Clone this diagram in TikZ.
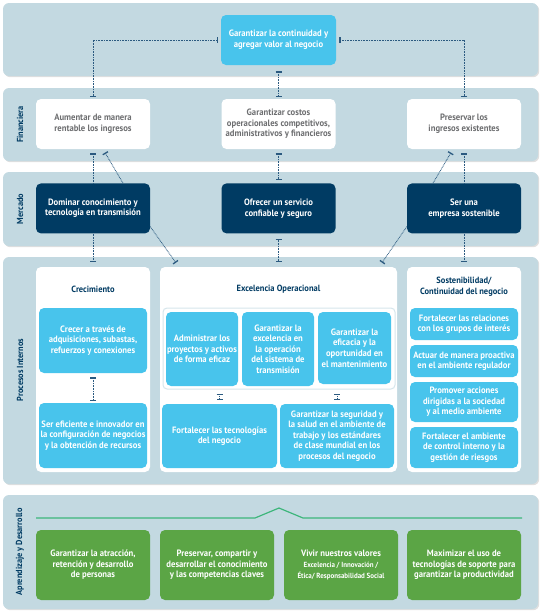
\documentclass[tikz,border=0pt]{standalone}
\usepackage{fontspec}
\setmainfont{PT Sans}[FakeStretch=0.94]
\usepackage{xcolor}
\usetikzlibrary{positioning,arrows.meta,shadows}
\definecolor{bandblue}{HTML}{C3D9E1}
\definecolor{boxcyan}{HTML}{48C4EC}
\definecolor{boxnavy}{HTML}{003B63}
\definecolor{boxgreen}{HTML}{5BA545}
\definecolor{linegreen}{HTML}{3DB67B}
\definecolor{txtgray}{HTML}{6D6E70}
\definecolor{linkblue}{HTML}{2B5A80}
\definecolor{framegray}{HTML}{D6E6EC}
\tikzset{band/.style={fill=bandblue,rounded corners=6pt,drop shadow={shadow xshift=1.2pt,shadow yshift=-1.2pt,opacity=.25}},
band label/.style={rotate=90,text=boxnavy,font=\fontsize{8.8}{10}\selectfont\bfseries},
base node/.style={rounded corners=5pt,align=center,inner sep=1pt,font=\fontsize{9.2}{10.6}\selectfont\bfseries},
white node/.style={base node,fill=white,text=txtgray,minimum width=114pt,minimum height=50pt},
navy node/.style={base node,fill=boxnavy,text=white,minimum width=114pt,minimum height=50pt},
cyan node/.style={base node,fill=boxcyan,text=white},
green node/.style={base node,fill=boxgreen,text=white,minimum width=114pt,minimum height=70pt},
panel/.style={fill=white,rounded corners=5pt},
title/.style={text=boxnavy,align=center,font=\fontsize{9}{11}\selectfont\bfseries},
link/.style={draw=linkblue,line width=.8pt,dash pattern=on .8pt off .8pt,>={Bar[width=6pt,line width=1.3pt]}},}

\begin{document}
\begin{tikzpicture}[x=1pt,y=-1pt]
    \useasboundingbox (0,0) rectangle (543,616);

    % bands
    \path[band] (3,3) rectangle (538,76);
    \path[band] (3,88) rectangle (538,161);
    \path[band] (3,172) rectangle (538,246);
    \path[band] (3,257) rectangle (538,484);
    \path[band] (3,495) rectangle (538,609);

    \node[band label] (l1) at (20,124.5) {Financiera};
    \node[band label] (l2) at (20,209) {Mercado};
    \node[band label] (l3) at (20,370) {Procesos Internos};
    \node[band label] (l4) at (20,552) {Aprendizaje y Desarrollo};

    % top
    \node[cyan node,minimum width=115pt,minimum height=50pt,font=\fontsize{9.2}{11}\selectfont\bfseries] (t) at (278.5,40) {Garantizar la continuidad y\\agregar valor al negocio};

    % financiera
    \node[white node] (f1) at (93,124) {Aumentar de manera\\rentable los ingresos};
    \node[white node] (f2) at (278.5,124) {Garantizar costos\\operacionales competitivos,\\administrativos y financieros};
    \node[white node] (f3) at (464,124) {Preservar los\\ingresos existentes};

    % mercado
    \node[navy node] (m1) [below=34pt of f1] {Dominar conocimiento y\\tecnolog\'ia en transmisi\'on};
    \node[navy node] (m2) [below=34pt of f2] {Ofrecer un servicio\\confiable y seguro};
    \node[navy node] (m3) [below=34pt of f3] {Ser una\\empresa sostenible};

    % procesos internos
    \node[panel,minimum width=114pt,minimum height=205pt] (p1) at (93,369.5) {};
    \node[panel,minimum width=237pt,minimum height=205pt] (p2) at (278.5,369.5) {};
    \node[panel,minimum width=114pt,minimum height=205pt] (p3) at (464,369.5) {};
    \node[title] (p1t) at (93,289) {Crecimiento};
    \node[title] (p2t) at (278.5,289) {Excelencia Operacional};
    \node[title] (p3t) at (464,287) {Sostenibilidad/\\Continuidad del negocio};

    \node[cyan node,minimum width=108pt,minimum height=65pt] (c1) at (93,340.5) {Crecer a trav\'es de\\adquisiciones, subastas,\\refuerzos y conexiones};
    \node[cyan node,minimum width=108pt,minimum height=65pt] (c2) at (93,435.5) {Ser eficiente e innovador en\\la configuraci\'on de negocios\\y la obtenci\'on de recursos};

    \node[draw=framegray,fill=white,line width=1pt,rounded corners=4pt,minimum width=232pt,minimum height=81pt] (fr) at (279,348.5) {};
    \node[cyan node,minimum width=72pt,minimum height=74pt] (e1) at (202,349) {Administrar los\\proyectos y activos\\de forma eficaz};
    \node[cyan node,minimum width=72pt,minimum height=74pt] (e2) at (278,349) {Garantizar la\\excelencia en\\la operaci\'on\\del sistema de\\transmisi\'on};
    \node[cyan node,minimum width=73pt,minimum height=72pt] (e3) at (354.5,348) {Garantizar la\\eficacia y la\\oportunidad en\\el mantenimiento};
    \node[cyan node,minimum width=115pt,minimum height=64pt] (e4) at (219.5,436) {Fortalecer las tecnolog\'ias\\del negocio};
    \node[cyan node,minimum width=114pt,minimum height=64pt] (e5) at (337,436) {Garantizar la seguridad y\\la salud en el ambiente de\\trabajo y los est\'andares\\de clase mundial en los\\procesos del negocio};

    \node[cyan node,minimum width=108pt,minimum height=32pt] (s1) at (464,324) {Fortalecer las relaciones\\con los grupos de inter\'es};
    \node[cyan node,minimum width=108pt,minimum height=32pt] (s2) at (464,361) {Actuar de manera proactiva\\en el ambiente regulador};
    \node[cyan node,minimum width=108pt,minimum height=40pt] (s3) at (464,402) {Promover acciones\\dirigidas a la sociedad\\y al medio ambiente};
    \node[cyan node,minimum width=108pt,minimum height=41pt] (s4) at (464,447.5) {Fortalecer el ambiente\\de control interno y la\\gesti\'on de riesgos};

    % aprendizaje y desarrollo
    \draw[linegreen,line width=1.2pt] (36,518) -- (255,518) -- (279,508) -- (303,518) -- (522,518);
    \node[green node] (g1) at (93,565) {Garantizar la atracci\'on,\\retenci\'on y desarrollo\\de personas};
    \node[green node] (g2) at (217,565) {Preservar, compartir y\\desarrollar el conocimiento\\y las competencias claves};
    \node[green node] (g3) at (341,565) {Vivir nuestros valores\\\fontsize{7.4}{9}\selectfont Excelencia / Innovaci\'on /\\\fontsize{7.4}{9}\selectfont \'Etica/ Responsabilidad Social};
    \node[green node] (g4) at (464,565) {Maximizar el uso de\\tecnolog\'ias de soporte para\\garantizar la productividad};

    % links
    \draw[link,<->,shorten <=3pt,shorten >=2pt] (t) -| (f1);
    \draw[link,<->,shorten <=3pt,shorten >=2pt] (t) -| (f3);
    \draw[link,<->,shorten <=6pt,shorten >=2pt] (t) -- (f2);

    \path[link]
    (f1) edge[<-,shorten <=4pt] (m1)
    ([xshift=10pt]f1.south) edge[<-,shorten <=4pt] ([xshift=30pt]m1.north)
    (f2) edge[<->,shorten <=4pt,shorten >=3pt] (m2)
    (f3) edge[<-,shorten <=4pt] (m3)
    ([xshift=-11pt]f3.south) edge[<-,shorten <=4pt] ([xshift=-31pt]m3.north)
    ;

    \path[link]
    (m1) edge[->,shorten >=5pt] (p1)
    ([yshift=7pt]m1.south east) edge[->,shorten >=5pt] ([xshift=19pt]p2.north west)
    (m2) edge[<->,shorten <=5pt,shorten >=5pt] (p2)
    (m3) edge[->,shorten >=5pt] (p3)
    ([yshift=7pt]m3.south west) edge[->,shorten >=5pt] ([xshift=-18pt]p2.north east)
    ;

    \path[link]
    (c1) edge[<->,shorten <=4pt,shorten >=2pt] (c2)
    (e4.north |- fr.south) edge[<->,shorten <=4pt,shorten >=4pt] (e4)
    (e5.north |- fr.south) edge[<->,shorten <=4pt,shorten >=4pt] (e5)
    ;
\end{tikzpicture}
\end{document}
